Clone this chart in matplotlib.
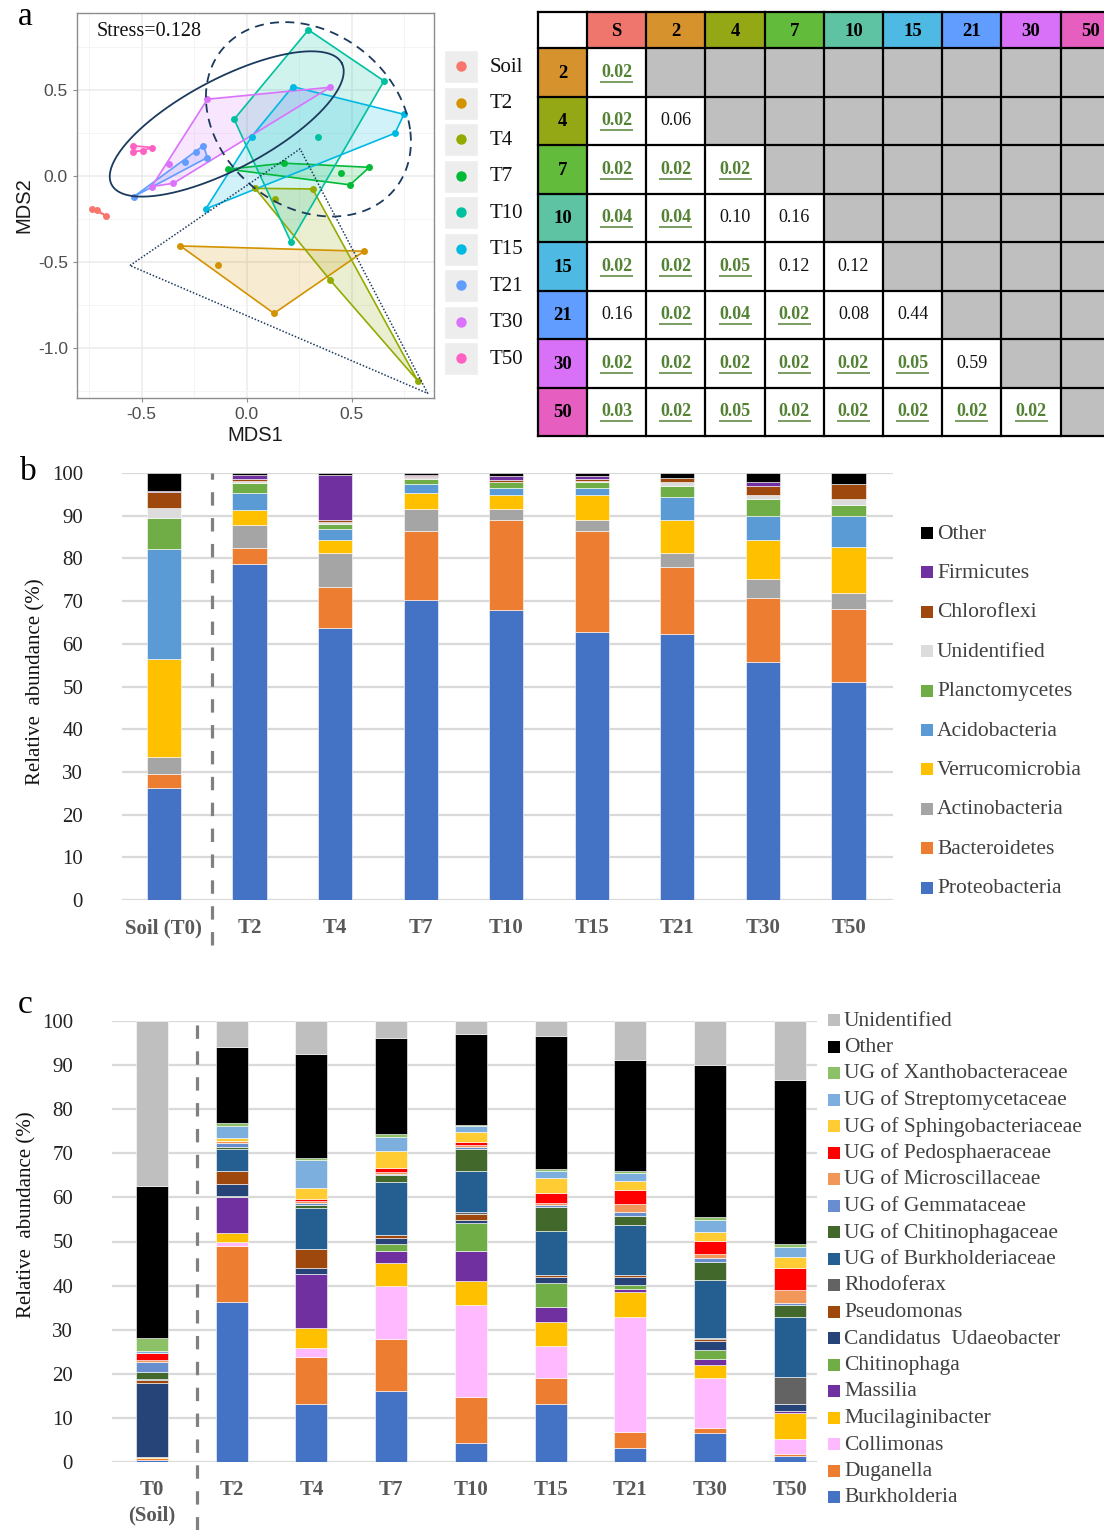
import numpy as np
import matplotlib
matplotlib.use("Agg")
import matplotlib.pyplot as plt
from matplotlib.patches import Rectangle, Polygon

plt.rcParams["axes.unicode_minus"] = False

# ---------------- panel a: NMDS ordination ----------------
nmds_groups = ["Soil", "T2", "T4", "T7", "T10", "T15", "T21", "T30", "T50"]
nmds_colors = ["#F8766D", "#D39200", "#93AA00", "#00BA38", "#00C19F",
               "#00B9E3", "#619CFF", "#DB72FB", "#FF61C3"]

soil_x = [-0.735, -0.715, -0.67]
soil_y = [-0.19, -0.195, -0.23]
t2_x = [-0.316, -0.135, 0.13, 0.559]
t2_y = [-0.405, -0.515, -0.797, -0.436]
t4_x = [0.04, 0.135, 0.314, 0.397, 0.814]
t4_y = [-0.07, -0.132, -0.074, -0.603, -1.188]
t7_x = [-0.087, 0.178, 0.448, 0.584, 0.492]
t7_y = [0.041, 0.076, 0.021, 0.052, -0.050]
t10_x = [0.294, 0.654, 0.341, -0.06, 0.21]
t10_y = [0.851, 0.554, 0.227, 0.331, -0.38]
t15_x = [0.219, 0.749, 0.706, 0.024, -0.195]
t15_y = [0.521, 0.360, 0.250, 0.231, -0.190]
t21_x = [-0.537, -0.294, -0.241, -0.206, -0.187]
t21_y = [-0.118, 0.081, 0.140, 0.178, 0.109]
t30_x = [-0.187, 0.397, -0.368, -0.349, -0.452]
t30_y = [0.448, 0.517, 0.072, -0.041, -0.060]
t50_x = [-0.543, -0.540, -0.495, -0.452]
t50_y = [0.178, 0.143, 0.149, 0.167]

nmds_x = [soil_x, t2_x, t4_x, t7_x, t10_x, t15_x, t21_x, t30_x, t50_x]
nmds_y = [soil_y, t2_y, t4_y, t7_y, t10_y, t15_y, t21_y, t30_y, t50_y]

# cluster outlines: ellipses (centre, two conjugate semi-axes) and a triangle
ellipse_solid = ((-0.095, 0.304), (0.548, 0.353), (0.100, -0.232))
ellipse_dashed = ((0.294, 0.331), (0.484, -0.058), (-0.063, 0.562))
triangle_x = [-0.556, 0.254, 0.862]
triangle_y = [-0.519, 0.159, -1.262]
stress_value = 0.128

# ---------------- panel a: pairwise p-value table ----------------
table_labels = ["S", "2", "4", "7", "10", "15", "21", "30", "50"]
table_colors = ["#EE766D", "#D5922D", "#94A816", "#62BB3B", "#5EC3A3",
                "#4EBAE3", "#619CFF", "#D870F8", "#E75EC1"]
p_values = [
    [0.02],
    [0.02, 0.06],
    [0.02, 0.02, 0.02],
    [0.04, 0.04, 0.10, 0.16],
    [0.02, 0.02, 0.05, 0.12, 0.12],
    [0.16, 0.02, 0.04, 0.02, 0.08, 0.44],
    [0.02, 0.02, 0.02, 0.02, 0.02, 0.05, 0.59],
    [0.03, 0.02, 0.05, 0.02, 0.02, 0.02, 0.02, 0.02],
]

# ---------------- panel b: phyla ----------------
phylum_samples = ["Soil (T0)", "T2", "T4", "T7", "T10", "T15", "T21", "T30", "T50"]
phylum_names = ["Proteobacteria", "Bacteroidetes", "Actinobacteria", "Verrucomicrobia",
                "Acidobacteria", "Planctomycetes", "Unidentified", "Chloroflexi",
                "Firmicutes", "Other"]
phylum_colors = ["#4472C4", "#ED7D31", "#A5A5A5", "#FFC000", "#5B9BD5",
                 "#70AD47", "#DCDCDC", "#9E480E", "#7030A0", "#000000"]
proteobacteria = [26.2, 78.6, 63.8, 70.3, 67.8, 62.8, 62.4, 55.8, 51.1]
bacteroidetes = [3.4, 3.9, 9.6, 16.2, 21.3, 23.7, 15.7, 14.9, 17.1]
actinobacteria = [4.0, 5.3, 7.9, 5.1, 2.5, 2.6, 3.2, 4.4, 3.8]
verrucomicrobia = [22.8, 3.5, 3.0, 3.6, 3.2, 5.7, 7.8, 9.2, 10.6]
acidobacteria = [25.7, 3.9, 2.7, 2.2, 1.8, 1.8, 5.2, 5.7, 7.4]
planctomycetes = [7.4, 2.5, 1.1, 1.3, 1.2, 1.2, 2.7, 4.0, 2.5]
unidentified_phylum = [2.2, 0.5, 0.5, 0.3, 0.2, 0.4, 0.8, 0.8, 1.5]
chloroflexi = [3.9, 0.4, 0.5, 0.2, 0.4, 0.4, 1.0, 2.2, 3.4]
firmicutes = [0.2, 0.9, 10.4, 0.3, 0.9, 0.7, 0.1, 0.9, 0.0]
other_phylum = [4.2, 0.5, 0.5, 0.5, 0.7, 0.7, 1.1, 2.1, 2.6]
phylum_values = [proteobacteria, bacteroidetes, actinobacteria, verrucomicrobia,
                 acidobacteria, planctomycetes, unidentified_phylum, chloroflexi,
                 firmicutes, other_phylum]

# ---------------- panel c: genera ----------------
genus_samples = ["T0\n(Soil)", "T2", "T4", "T7", "T10", "T15", "T21", "T30", "T50"]
genus_names = ["Burkholderia", "Duganella", "Collimonas", "Mucilaginibacter", "Massilia",
               "Chitinophaga", "Candidatus  Udaeobacter", "Pseudomonas", "Rhodoferax",
               "UG of Burkholderiaceae", "UG of Chitinophagaceae", "UG of Gemmataceae",
               "UG of Microscillaceae", "UG of Pedosphaeraceae", "UG of Sphingobacteriaceae",
               "UG of Streptomycetaceae", "UG of Xanthobacteraceae", "Other", "Unidentified"]
genus_colors = ["#4472C4", "#ED7D31", "#FFB9FF", "#FFC000", "#7030A0",
                "#70AD47", "#264478", "#9E480E", "#636363",
                "#255E91", "#43682B", "#698ED0", "#F1975A", "#FF0000",
                "#FFCD33", "#7CAFDD", "#8CC168", "#000000", "#BFBFBF"]
burkholderia = [0.4, 36.3, 13.2, 16.2, 4.3, 13.2, 3.1, 6.5, 1.3]
duganella = [0.5, 12.7, 10.5, 11.7, 10.5, 5.9, 3.8, 1.2, 0.5]
collimonas = [0.0, 0.9, 2.1, 11.9, 20.8, 7.2, 25.9, 11.4, 3.4]
mucilaginibacter = [0.3, 2.1, 4.6, 5.4, 5.4, 5.5, 5.7, 3.0, 5.9]
massilia = [0.0, 8.1, 12.3, 2.6, 6.8, 3.4, 0.8, 1.2, 0.4]
chitinophaga = [0.0, 0.3, 0.0, 1.7, 6.4, 5.4, 0.9, 2.2, 0.0]
udaeobacter = [16.8, 2.6, 1.3, 1.2, 0.7, 1.4, 1.7, 2.0, 1.7]
pseudomonas = [0.5, 2.9, 4.2, 0.8, 1.3, 0.4, 0.5, 0.5, 0.0]
rhodoferax = [0.0, 0.0, 0.0, 0.0, 0.5, 0.0, 0.0, 0.2, 6.0]
ug_burkholderiaceae = [0.3, 5.0, 9.3, 12.0, 9.2, 10.0, 11.3, 13.1, 13.7]
ug_chitinophagaceae = [1.6, 0.5, 0.8, 1.5, 5.0, 5.4, 2.1, 4.0, 2.7]
ug_gemmataceae = [2.3, 0.9, 0.5, 0.3, 0.5, 0.5, 0.9, 1.0, 0.5]
ug_microscillaceae = [0.4, 0.4, 0.4, 0.5, 0.4, 0.5, 1.7, 0.8, 2.9]
ug_pedosphaeraceae = [1.6, 0.0, 0.5, 0.9, 0.8, 2.2, 3.3, 3.0, 5.0]
ug_sphingobacteriaceae = [0.0, 0.8, 2.5, 3.8, 2.2, 3.3, 2.1, 2.1, 2.5]
ug_streptomycetaceae = [0.4, 2.6, 6.2, 3.3, 1.3, 1.6, 1.8, 2.6, 2.2]
ug_xanthobacteraceae = [3.0, 0.8, 0.6, 0.6, 0.4, 0.5, 0.4, 0.8, 0.8]
other_genus = [34.5, 17.2, 23.5, 21.7, 20.6, 30.3, 25.2, 34.5, 37.1]
unidentified_genus = [37.4, 5.9, 7.5, 3.9, 2.9, 3.3, 8.8, 9.9, 13.4]
genus_values = [burkholderia, duganella, collimonas, mucilaginibacter, massilia,
                chitinophaga, udaeobacter, pseudomonas, rhodoferax,
                ug_burkholderiaceae, ug_chitinophagaceae, ug_gemmataceae,
                ug_microscillaceae, ug_pedosphaeraceae, ug_sphingobacteriaceae,
                ug_streptomycetaceae, ug_xanthobacteraceae, other_genus,
                unidentified_genus]

# ---------------- figure ----------------
W, H = 1104, 1530
fig = plt.figure(figsize=(W / 100, H / 100), dpi=100)
SERIF = ["Liberation Serif", "DejaVu Serif"]
SANS = ["Liberation Sans", "DejaVu Sans"]
TXT = "#404040"


def px_axes(x0, y0, x1, y1):
    return fig.add_axes([x0 / W, 1 - y1 / H, (x1 - x0) / W, (y1 - y0) / H])


def convex_hull(xs, ys):
    pts = sorted(set(zip(xs, ys)))
    if len(pts) < 3:
        return pts

    def cross(o, a, b):
        return (a[0] - o[0]) * (b[1] - o[1]) - (a[1] - o[1]) * (b[0] - o[0])

    lower, upper = [], []
    for p in pts:
        while len(lower) >= 2 and cross(lower[-2], lower[-1], p) <= 0:
            lower.pop()
        lower.append(p)
    for p in reversed(pts):
        while len(upper) >= 2 and cross(upper[-2], upper[-1], p) <= 0:
            upper.pop()
        upper.append(p)
    return lower[:-1] + upper[:-1]


# overlay in pixel units for table, legends and panel letters
ov = fig.add_axes([0, 0, 1, 1])
ov.set_xlim(0, W)
ov.set_ylim(H, 0)
ov.axis("off")

# ---------- panel a scatter ----------
axa = px_axes(77, 13, 434, 398)
axa.set_xlim(-0.808, 0.892)
axa.set_ylim(-1.289, 0.949)
axa.set_xticks([-0.5, 0.0, 0.5])
axa.set_yticks([-1.0, -0.5, 0.0, 0.5])
axa.set_xticks([-0.75, -0.25, 0.25, 0.75], minor=True)
axa.set_yticks([-1.25, -0.75, -0.25, 0.25, 0.75], minor=True)
axa.grid(which="major", color="#EBEBEB", lw=1.1, zorder=0)
axa.grid(which="minor", color="#F4F4F4", lw=0.7, zorder=0)
axa.set_axisbelow(True)
for s in axa.spines.values():
    s.set_color("#8C8C8C")
    s.set_linewidth(1.0)
axa.tick_params(which="major", length=3, color="#8C8C8C", labelsize=12.5,
                labelcolor="#4D4D4D")
axa.tick_params(which="minor", length=0)
for lab in axa.get_xticklabels() + axa.get_yticklabels():
    lab.set_family(SANS)
axa.set_xlabel("MDS1", family=SANS, fontsize=14.5, color="#1A1A1A", labelpad=3)
axa.set_ylabel("MDS2", family=SANS, fontsize=14.5, color="#1A1A1A", labelpad=3)

for gx, gy, col in zip(nmds_x, nmds_y, nmds_colors):
    hull = convex_hull(gx, gy)
    if len(hull) >= 3:
        axa.add_patch(Polygon(hull, closed=True, facecolor=col, alpha=0.18,
                              edgecolor="none", zorder=2))
        axa.add_patch(Polygon(hull, closed=True, facecolor="none",
                              edgecolor=col, lw=1.2, zorder=3))
    else:
        hx, hy = zip(*hull)
        axa.plot(hx, hy, color=col, lw=1.2, zorder=3)
    axa.plot(gx, gy, "o", color=col, ms=5, mec="none", zorder=4)

t = np.linspace(0, 2 * np.pi, 300)
for (c, a, b), ls in ((ellipse_solid, "-"), (ellipse_dashed, (0, (5, 3.5)))):
    ex = c[0] + np.cos(t) * a[0] + np.sin(t) * b[0]
    ey = c[1] + np.cos(t) * a[1] + np.sin(t) * b[1]
    axa.plot(ex, ey, color="#1C3A5E", lw=1.3, ls=ls, zorder=5)
axa.plot(triangle_x + triangle_x[:1], triangle_y + triangle_y[:1],
         color="#1C3A5E", lw=1.1, ls=(0, (1, 1.2)), zorder=5)
axa.text(0.055, 0.953, f"Stress={stress_value}", transform=axa.transAxes,
         family=SERIF, fontsize=14.5, color="#111111", va="center", ha="left")

# panel a legend
for i, (name, col) in enumerate(zip(nmds_groups, nmds_colors)):
    yc = 66 + i * 36.5
    ov.add_patch(Rectangle((444, yc - 16), 34, 33, facecolor="#EDEDED",
                           edgecolor="white", lw=1))
    ov.plot(461, yc, "o", color=col, ms=7.5, mec="none")
    ov.text(490, yc + 1, name, family=SERIF, fontsize=15, color="#111111",
            va="center", ha="left")

# ---------- panel a table ----------
col_first, col_w = 49, 59.2
x_edges = 538 + np.concatenate([[0.0], col_first + np.arange(10) * col_w])
y_edges = np.concatenate([[12.0], 48 + np.arange(9) * 48.5])
sig_green = "#548235"
for r in range(9):
    for cidx in range(10):
        x0, x1 = x_edges[cidx], x_edges[cidx + 1]
        y0, y1 = y_edges[r], y_edges[r + 1]
        cx, cy = (x0 + x1) / 2, (y0 + y1) / 2
        if r == 0 and cidx == 0:
            fc = "white"
        elif r == 0:
            fc = table_colors[cidx - 1]
        elif cidx == 0:
            fc = table_colors[r]
        elif cidx - 1 < r:
            fc = "white"
        else:
            fc = "#BFBFBF"
        ov.add_patch(Rectangle((x0, y0), x1 - x0, y1 - y0, facecolor=fc,
                               edgecolor="none", zorder=1))
        if r == 0 and cidx > 0:
            ov.text(cx, cy + 1, table_labels[cidx - 1], family=SERIF, fontsize=13.5,
                    weight="bold", ha="center", va="center", zorder=3)
        elif cidx == 0 and r > 0:
            ov.text(cx, cy + 1, table_labels[r], family=SERIF, fontsize=13.5,
                    weight="bold", ha="center", va="center", zorder=3)
        elif r > 0 and cidx - 1 < r:
            p = p_values[r - 1][cidx - 1]
            if p <= 0.05:
                ov.text(cx, cy, f"{p:.2f}", family=SERIF, fontsize=13, weight="bold",
                        color=sig_green, ha="center", va="center", zorder=3)
                ov.plot([cx - 16.5, cx + 16.5], [cy + 9.5, cy + 9.5], color=sig_green,
                        lw=1.1, zorder=3, solid_capstyle="butt")
            else:
                ov.text(cx, cy, f"{p:.2f}", family=SERIF, fontsize=13,
                        color="#111111", ha="center", va="center", zorder=3)
for xe in x_edges:
    ov.plot([xe, xe], [y_edges[0], y_edges[-1]], color="black", lw=1.6, zorder=4)
for ye in y_edges:
    ov.plot([x_edges[0], x_edges[-1]], [ye, ye], color="black", lw=1.6, zorder=4)


# ---------- stacked bar panels ----------
def stacked_panel(box, samples, values, colors, names, dash_bottom, legend_x,
                  legend_y0, legend_dy, ylab_xy, label_pad):
    ax = px_axes(*box)
    x = np.arange(len(samples))
    bottom = np.zeros(len(samples))
    for vals, col in zip(values, colors):
        vals = np.asarray(vals, dtype=float)
        ax.bar(x, vals, width=0.4, bottom=bottom, color=col, edgecolor="white",
               linewidth=0.4, zorder=3)
        bottom += vals
    ax.set_ylim(0, 100)
    ax.set_yticks(np.arange(0, 101, 10))
    ax.yaxis.grid(True, color="#D9D9D9", lw=1.6, zorder=0)
    for s in ax.spines.values():
        s.set_visible(False)
    ax.tick_params(axis="y", length=0, pad=28, labelsize=15, labelcolor="#222222")
    ax.tick_params(axis="x", length=0, pad=label_pad, labelsize=15,
                   labelcolor="#595959")
    ax.set_xticks(x)
    ax.set_xticklabels(samples, family=SERIF, weight="bold", linespacing=1.35)
    for lab in ax.get_yticklabels():
        lab.set_family(SERIF)
    ax.plot([0.56, 0.56], [dash_bottom, 100], color="#808080", lw=2.3,
            ls=(0, (4.2, 3.9)), clip_on=False, zorder=4)
    fig.text(ylab_xy[0] / W, 1 - ylab_xy[1] / H, "Relative  abundance (%)",
             family=SERIF, fontsize=15, color="#111111", rotation=90,
             ha="center", va="center")
    for i, (name, col) in enumerate(zip(names[::-1], colors[::-1])):
        yc = legend_y0 + i * legend_dy
        ov.add_patch(Rectangle((legend_x, yc - 6), 12, 12, facecolor=col,
                               edgecolor="none"))
        ov.text(legend_x + 16, yc + 1, name, family=SERIF, fontsize=15.5,
                color=TXT, ha="left", va="center")
    return ax


axb = stacked_panel((122, 473, 893, 900), phylum_samples, phylum_values,
                    phylum_colors, phylum_names, -10.5, 921, 533, 39.4,
                    (36, 682), 13)
axb.set_xlim(-0.49, 8.52)

axc = stacked_panel((112, 1021, 817, 1462), genus_samples, genus_values,
                    genus_colors, genus_names, -15.5, 828, 1020, 26.5,
                    (27, 1215), 13)
axc.set_xlim(-0.5, 8.34)

# panel letters
for letter, (lx, ly) in {"a": (25, 17), "b": (28, 472), "c": (25, 1005)}.items():
    ov.text(lx, ly, letter, family=SERIF, fontsize=24, color="black",
            ha="center", va="center")

fig.savefig("out.png", dpi=100)
